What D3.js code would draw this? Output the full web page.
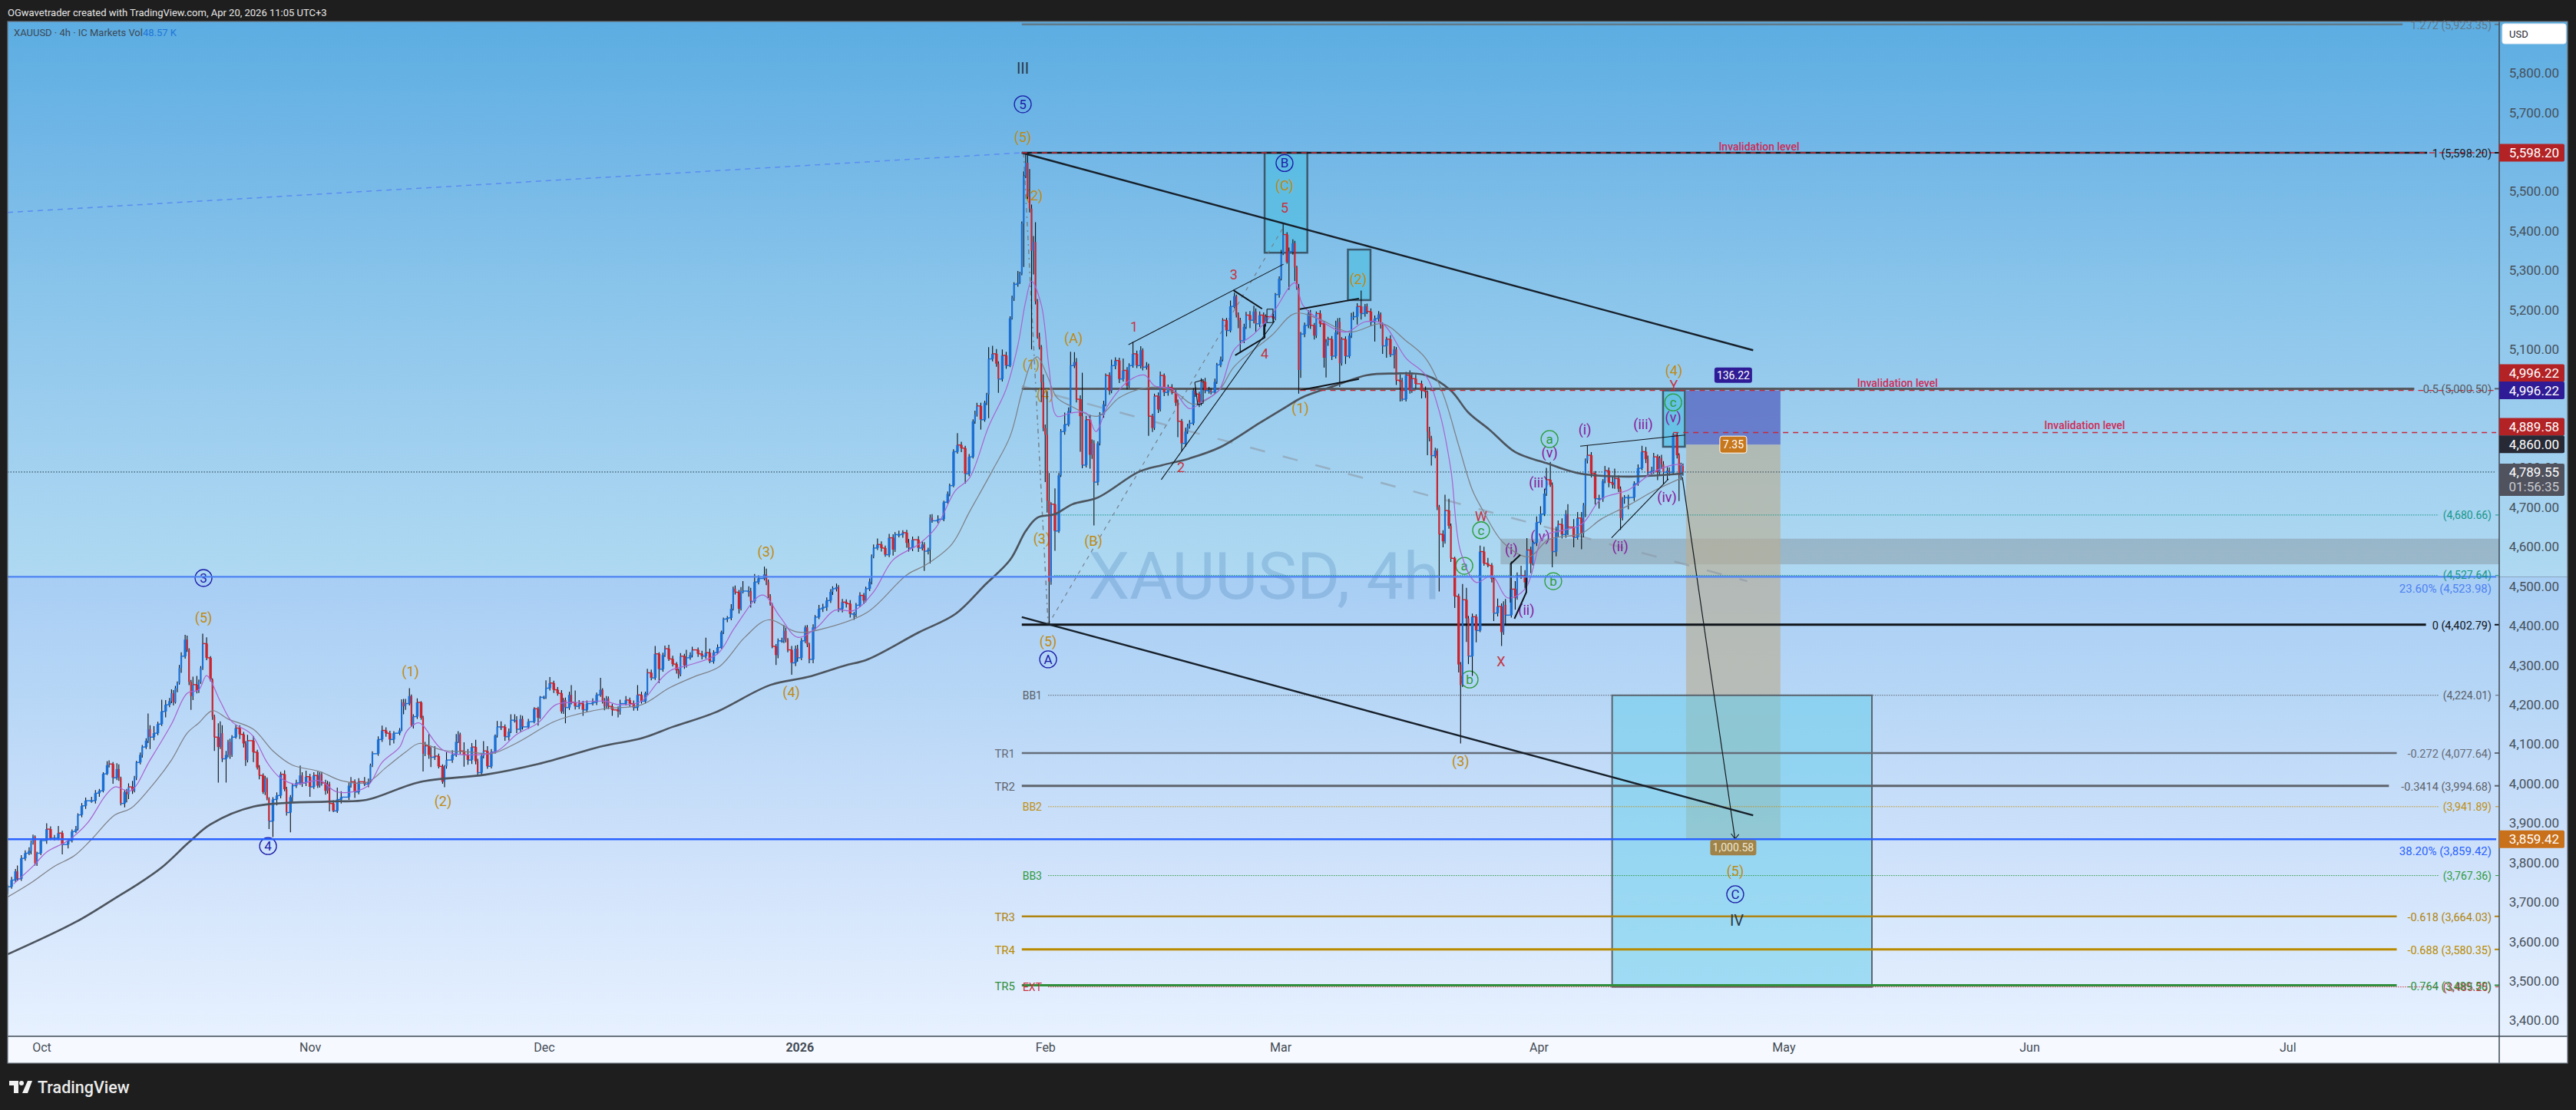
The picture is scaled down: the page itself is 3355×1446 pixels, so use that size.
<!DOCTYPE html>
<html><head><meta charset="utf-8">
<style>html,body{margin:0;padding:0;background:#1e1e1e;overflow:hidden}svg{display:block}text{font-family:Roboto,"Liberation Sans",sans-serif}</style>
<script src="https://cdn.jsdelivr.net/npm/d3@7/dist/d3.min.js"></script></head><body>
<svg id="c" width="3355" height="1446"></svg>
<script>
// candles: [bar number, close, upper wick, lower wick] ; open = previous close
const firstOpen = 3728;
const barsOct = [[0,3739,5,8],[2,3756,8,5],[4,3778,6,5],[5,3759,15,5],[7,3811,8,5],[9,3824,7,6],[11,3830,9,5],[12,3850,6,9],[13,3866,5,4],[14,3798,3,5],[15,3824,4,6],[17,3856,6,5],[20,3885,15,8],[22,3862,7,5],[24,3862,8,6],[26,3875,18,5],[28,3846,6,25],[31,3856,5,10],[33,3879,5,5],[35,3885,8,4],[36,3921,4,3],[38,3944,7,6],[40,3957,8,8],[43,3957,10,5],[45,3976,8,7],[47,3982,5,9],[49,4025,4,4],[51,4047,10,3],[52,4050,9,6],[54,4015,5,15],[56,4037,15,6],[57,4015,12,8],[58,3950,3,5],[60,3979,6,10],[61,3973,8,20],[62,3992,9,12],[64,3982,15,8],[65,4015,5,4],[66,4054,4,6],[68,4073,6,5],[69,4093,5,7],[71,4109,6,5],[72,4138,40,6],[73,4118,10,30],[75,4128,18,8],[77,4151,6,5],[79,4183,30,5],[81,4200,12,15],[83,4209,8,6],[84,4229,10,5],[85,4206,8,8],[86,4242,6,3],[87,4255,4,10],[88,4293,8,4],[89,4323,10,12],[91,4365,12,6],[92,4339,10,5],[93,4258,4,8],[94,4222,5,35],[95,4251,20,10],[97,4235,22,6],[98,4258,6,5],[99,4293,5,5],[100,4355,25,5],[102,4319,16,6],[104,4264,4,5],[105,4170,3,8],[106,4118,5,35],[108,4093,35,90],[109,4128,30,5],[110,4063,20,8],[112,4073,10,60],[113,4106,5,6],[114,4073,8,10],[115,4118,5,5],[117,4141,8,4],[119,4125,7,12],[121,4102,6,10],[122,4060,6,15],[123,4109,15,6],[126,4080,12,25],[128,4041,6,5],[129,4021,6,10],[131,3979,5,5],[132,4012,8,8],[133,3963,4,5],[134,3905,3,20],[136,3960,6,40],[138,3970,8,15],[140,4024,6,7],[142,3986,10,5],[143,3927,6,8],[145,3966,5,50],[146,3995,5,12],[148,4002,8,6],[150,4021,25,5],[151,4002,8,10],[153,4018,15,8],[155,3992,7,25],[157,4021,8,5],[159,3995,10,6],[160,4024,5,5],[161,4002,6,7],[163,3982,8,10],[164,3999,8,7],[165,3950,6,20],[167,3931,8,3],[169,3960,30,5],[171,3966,15,10],[175,3995,8,7],[176,4005,12,5],[178,3979,6,15],[180,4005,9,6],[183,3999,12,5],[185,4005,8,8],[186,4047,4,3],[187,4076,6,5],[190,4112,8,5],[192,4135,12,6],[194,4128,8,9],[196,4112,6,15],[198,4128,5,10],[201,4135,6,5],[202,4206,8,2],[203,4196,9,20]];
const barsNov = [[204,4203,12,9],[206,4222,20,5],[207,4148,4,4],[208,4170,6,8],[210,4206,10,6],[212,4167,3,5],[213,4076,5,45],[214,4096,10,6],[216,4073,30,10],[217,4067,20,25],[219,4070,25,7],[221,4044,6,5],[223,4005,5,5],[224,4044,3,14],[225,4060,20,6],[228,4073,12,7],[230,4106,20,5],[231,4125,8,3],[232,4083,4,8],[234,4073,22,30],[236,4060,15,12],[238,4093,10,10],[240,4057,18,8],[241,4028,6,6],[243,4070,8,8],[244,4083,25,6],[246,4044,12,6],[248,4080,8,5],[250,4122,3,4],[251,4144,15,5],[253,4144,14,8],[255,4119,6,10],[257,4132,8,9],[258,4161,15,4],[260,4161,15,6],[261,4138,10,10],[263,4164,10,6],[264,4144,8,7],[267,4157,7,5],[270,4190,4,4],[272,4167,5,20],[273,4219,3,3],[275,4219,4,5],[276,4242,20,4],[278,4255,15,6],[280,4238,6,8],[282,4229,7,6],[284,4183,8,5],[285,4212,5,6],[286,4193,6,40],[288,4225,8,6],[289,4206,25,5],[291,4196,30,8],[293,4203,9,7],[295,4187,7,15],[297,4203,8,6],[300,4206,10,5],[302,4225,6,7],[304,4238,30,5],[305,4209,4,6],[306,4196,8,10],[307,4216,6,6],[308,4196,5,7],[310,4187,6,15],[313,4183,9,15],[314,4203,10,8],[317,4212,10,5],[319,4203,6,8],[321,4193,8,8],[323,4225,25,8],[325,4209,8,6],[327,4229,4,6],[328,4281,10,4],[330,4268,8,6],[332,4329,20,5],[334,4290,4,35],[336,4326,6,6],[337,4342,8,5],[339,4316,10,5],[341,4303,8,6],[343,4287,5,8],[344,4277,4,10],[345,4323,8,5],[347,4300,6,9],[348,4319,20,6],[350,4326,7,5],[351,4339,8,6],[354,4329,6,8],[356,4323,8,8],[358,4332,38,6],[360,4310,10,5],[362,4332,6,6],[364,4345,8,4],[366,4384,4,3],[367,4417,4,5],[369,4420,5,8],[371,4443,12,6],[372,4494,5,4],[373,4485,8,6],[375,4443,6,12],[376,4488,10,4],[377,4488,25,6],[380,4488,12,14],[381,4462,8,16],[383,4511,20,5],[385,4520,8,6],[388,4530,20,5],[389,4511,15,8],[390,4475,6,5],[391,4455,5,4]];
const barsJan = [[392,4348,3,5],[394,4326,6,25],[395,4362,6,8],[397,4362,8,5],[398,4387,15,6],[399,4365,8,7],[400,4339,4,6],[402,4306,10,30],[404,4342,8,8],[405,4319,10,10],[407,4362,7,6],[409,4396,5,6],[410,4353,6,7],[411,4315,4,10],[413,4396,8,10],[414,4422,5,6],[416,4443,10,5],[418,4447,9,8],[420,4464,8,9],[422,4486,7,6],[423,4494,6,8],[425,4498,9,7],[426,4443,5,8],[428,4460,8,9],[430,4456,7,10],[432,4430,9,9],[434,4430,5,15],[435,4452,6,8],[437,4477,8,5],[439,4464,6,9],[440,4494,5,4],[442,4512,8,6],[443,4576,5,7],[444,4597,9,5],[446,4606,15,5],[448,4597,8,9],[450,4580,6,5],[452,4623,10,6],[454,4593,9,15],[455,4631,6,6],[457,4631,10,7],[459,4636,6,8],[461,4610,7,12],[462,4597,10,9],[464,4618,8,8],[467,4597,9,10],[469,4606,8,6],[470,4589,6,50],[472,4593,5,8],[473,4674,8,35],[474,4666,9,5],[477,4670,10,6],[480,4713,4,5],[482,4734,6,4],[483,4755,5,6],[485,4841,6,4],[487,4858,30,5],[489,4850,8,10],[491,4785,6,25],[493,4828,7,6],[495,4918,5,4],[496,4935,10,6],[497,4957,8,5],[499,4922,8,25],[501,4965,5,5],[502,4986,4,6],[503,5076,30,60],[505,5089,20,6],[507,5064,12,8],[508,5025,6,35],[510,5085,15,6],[512,5059,9,8],[514,5179,5,4],[515,5230,6,3],[516,5265,5,7],[518,5269,30,6],[519,5292,5,3],[520,5419,5,4],[521,5539,12,110],[522,5573,25,5],[523,5487,20,6],[524,5457,70,10],[525,5350,10,250],[526,5372,15,60],[527,5222,50,8],[528,5132,6,5],[529,5106,10,6],[530,5017,5,50],[531,4901,20,8],[532,4884,9,120],[533,4717,110,30]];
const barsFeb = [[534,4512,70,110],[535,4708,5,8],[537,4640,40,50],[539,4781,6,5],[540,4892,6,4],[542,4910,30,8],[544,4944,9,5],[545,5059,35,5],[547,5068,25,6],[548,4974,10,8],[550,4931,10,90],[551,4807,110,8],[553,4922,10,6],[555,4833,12,35],[556,4862,10,10],[557,4764,8,110],[559,4862,5,8],[560,4935,6,5],[562,4961,9,8],[563,5034,5,5],[565,4995,8,10],[566,5059,15,6],[568,5072,8,9],[570,5025,7,10],[572,5047,30,6],[574,5008,8,9],[575,5059,6,5],[577,5089,30,5],[579,5059,8,6],[581,5098,10,7],[582,5055,5,8],[584,5059,9,6],[585,4931,5,50],[587,4901,6,10],[588,4982,6,5],[590,4948,9,9],[591,5034,10,5],[593,4991,5,9],[595,5004,7,8],[597,4991,8,5],[599,4965,6,8],[600,4918,8,40],[602,4862,6,20],[604,4892,10,8],[605,4905,7,6],[606,4913,8,6],[608,4996,6,5],[609,4987,8,7],[611,4966,6,12],[612,5018,9,8],[614,4996,10,7],[616,4996,9,8],[617,4992,6,6],[619,5018,8,6],[620,5061,5,5],[622,5074,8,6],[623,5174,5,4],[625,5148,6,15],[627,5209,15,5],[629,5235,9,5],[630,5187,4,6],[631,5174,7,20],[632,5122,6,30],[634,5157,8,6],[635,5187,8,5],[637,5174,10,20],[639,5196,15,8],[640,5165,8,20],[642,5187,9,8],[644,5165,7,30],[645,5183,6,7],[649,5178,7,8],[650,5239,4,4],[652,5279,6,8],[653,5343,9,4],[654,5391,30,4],[656,5321,6,4],[657,5348,10,70],[659,5369,10,8],[660,5308,6,35],[661,5256,4,5]];
const barsMar = [[662,5048,10,60],[663,5139,5,20],[665,5161,7,8],[667,5191,8,7],[668,5161,9,9],[670,5135,6,10],[671,5191,5,6],[673,5165,8,8],[675,5079,5,25],[676,5118,8,50],[677,5126,6,9],[679,5083,8,10],[681,5143,30,6],[682,5170,9,5],[683,5065,10,60],[684,5126,5,6],[686,5083,7,20],[688,5135,6,5],[689,5183,10,6],[690,5183,12,8],[692,5209,8,20],[694,5191,40,15],[696,5209,6,8],[697,5196,7,6],[699,5170,8,9],[701,5178,8,50],[703,5189,8,7],[704,5161,5,8],[705,5109,7,20],[707,5126,6,30],[709,5087,10,6],[711,5100,8,35],[712,5022,6,12],[714,5018,15,50],[715,4974,10,5],[717,5035,8,6],[719,4996,12,8],[720,5026,15,6],[722,5013,10,12],[725,4996,8,20],[727,4992,10,15],[728,4892,4,60],[729,4875,12,8],[730,4831,6,25],[732,4844,7,6],[733,4701,5,8],[734,4632,5,145],[736,4614,10,15],[737,4692,40,6],[739,4653,30,7],[740,4571,6,9],[742,4475,4,30],[744,4302,6,20],[745,4250,6,148],[746,4466,40,5],[748,4419,30,60],[749,4323,6,20],[751,4423,8,50],[753,4388,6,30],[755,4588,15,4],[757,4558,12,6],[759,4553,14,5],[761,4519,6,9],[762,4432,5,20],[764,4449,20,8],[766,4384,8,35],[767,4453,9,7],[768,4427,15,25],[771,4493,70,6],[773,4471,20,30],[774,4527,8,5],[776,4527,25,8],[778,4510,14,15],[779,4592,30,5],[781,4558,8,25],[782,4610,6,5],[784,4662,15,8],[786,4683,20,6],[788,4735,12,5],[789,4770,30,6],[791,4757,45,5],[792,4588,6,40]];
const barsApr = [[794,4636,15,12],[795,4657,10,10],[797,4631,15,10],[799,4683,10,8],[800,4650,25,20],[803,4624,20,25],[805,4673,15,6],[807,4634,15,40],[808,4705,6,10],[809,4819,5,30],[810,4832,25,8],[812,4786,8,10],[814,4722,6,15],[816,4722,10,25],[818,4767,5,8],[819,4793,12,6],[821,4763,8,12],[823,4757,15,9],[824,4773,25,10],[826,4747,8,8],[827,4673,6,30],[828,4721,5,6],[829,4725,6,12],[831,4725,7,30],[834,4760,6,9],[836,4799,10,5],[838,4841,15,5],[840,4822,12,10],[841,4789,9,8],[843,4793,10,6],[844,4828,10,8],[846,4789,6,20],[847,4825,5,8],[848,4809,8,12],[849,4789,8,30],[851,4793,9,20],[852,4789,8,9],[854,4883,5,6],[856,4832,6,8],[857,4781,5,65],[858,4805,8,12],[859,4790,6,10]];

const maShortBars = [3,13,20,31,41,50,55,63,73,84,92,98,102,109,115,125,133,139,147,160,169,184,192,201,204,206,211,223,238,251,261,272,281,293,306,314,325,333,340,349,364,373,387,396,405,415,424,434,444,454,467,476,486,493,503,512,518,522,525,530,534,538,545,553,558,564,575,583,588,597,606,613,621,629,639,648,660,664,673,686,696,705,717,727,734,740,745,753,761,769,778,786,789,807,817,831,845,857,859];
const maShortVals = [3746,3791,3827,3856,3901,3969,3992,3982,4060,4151,4229,4238,4274,4209,4157,4125,4054,4018,3999,4008,3979,3992,4054,4093,4128,4141,4154,4086,4073,4083,4125,4154,4200,4206,4209,4200,4209,4255,4287,4300,4329,4397,4478,4423,4371,4396,4439,4439,4486,4567,4606,4649,4743,4773,4905,5000,5111,5222,5273,5213,5051,4931,4939,4939,4892,4957,5021,5035,5008,5000,4950,4970,4996,5100,5139,5187,5269,5213,5174,5144,5170,5165,5078,5035,4944,4796,4588,4510,4527,4471,4493,4614,4631,4657,4721,4744,4793,4809,4805];
const maMidBars = [0,12,24,34,43,55,63,73,84,92,98,105,113,126,136,146,160,171,184,194,204,211,223,238,248,262,280,293,306,325,339,352,365,378,390,405,420,441,461,471,484,493,505,514,520,525,528,533,538,545,559,570,581,591,600,608,621,629,648,660,672,688,705,717,727,736,744,751,756,767,780,790,807,817,831,845,859];
const maMidVals = [3713,3749,3791,3817,3859,3921,3937,3989,4060,4128,4154,4185,4164,4138,4083,4047,4031,4008,4003,4041,4080,4102,4085,4080,4076,4106,4157,4177,4190,4200,4242,4271,4297,4371,4415,4384,4395,4435,4529,4555,4606,4687,4794,4880,4991,5068,5081,5034,4978,4957,4931,4978,5000,5004,4987,4961,4996,5057,5135,5191,5178,5144,5165,5122,5078,4987,4857,4744,4696,4610,4575,4618,4634,4670,4705,4744,4776];
const maLongBars = [0,35,57,65,79,93,104,126,165,184,211,245,272,305,325,341,363,391,410,429,441,467,486,501,514,522,528,537,546,559,580,592,606,622,642,655,664,681,697,710,727,740,749,760,773,789,806,831,859];
const maLongVals = [3568,3650,3716,3740,3788,3852,3897,3942,3955,3959,4004,4023,4050,4095,4115,4144,4181,4250,4270,4299,4315,4383,4430,4503,4567,4640,4674,4683,4708,4725,4790,4807,4824,4853,4914,4953,4979,5009,5035,5039,5035,4996,4940,4896,4840,4812,4786,4778,4786];

const priceTicks = [5800,5700,5600,5500,5400,5300,5200,5100,5000,4900,4800,4700,4600,4500,4400,4300,4200,4100,4000,3900,3800,3700,3600,3500,3400];
const monthBars = [17.3,155,275,406,532,652.6,785,910.6,1036.6,1169];
const monthLabels = ["Oct","Nov","Dec","2026","Feb","Mar","Apr","May","Jun","Jul"];

// fib levels: level, label, colour, width, line end (bar), left tag
const fibLevels = [[5923.35,"1.272 (5,923.35)","#62798a",2.5,1228,""],[5598.20,"1 (5,598.20)","#14181d",2.5,1240.6,""],[5000.50,"0.5 (5,000.50)","#545a60",3,1234,""],[4402.79,"0 (4,402.79)","#10141a",3,1240,""],[4077.64,"-0.272 (4,077.64)","#666d78",2.5,1225,"TR1"],[3994.68,"-0.3414 (3,994.68)","#5f646c",3,1221,"TR2"],[3664.03,"-0.618 (3,664.03)","#b08410",2.5,1225,"TR3"],[3580.35,"-0.688 (3,580.35)","#b88a00",3,1225,"TR4"],[3489.50,"-0.764 (3,489.50)","#2f8f3c",3,1225,"TR5"]];
const dottedLevels = [[4680.66,"(4,680.66)","#16978a",""],[4527.64,"(4,527.64)","#16978a",""],[4224.01,"(4,224.01)","#5a6068","BB1"],[3941.89,"(3,941.89)","#c08f12","BB2"],[3767.36,"(3,767.36)","#2f9a3f","BB3"],[3485.25,"(3,485.25)","#c8323c","EXT"]];
const invalidLevels = [[5598.20,520],[4996.22,662.8],[4889.58,854]];
const invalidTexts = [[5614,898],[5014,969],[4907,1065]];
const goldLabels = [["(5)",520.5,5637],["(2)",526.4,5489],["(A)",546.5,5128],["(1)",524.8,5062],["(4)",532,4986],["(3)",530.3,4620],["(B)",556.7,4614],["(C)",654.7,5515],["(2)",692.5,5277],["(1)",662.8,4951],["(4)",854.3,5046],["(5)",100.4,4420],["(1)",206.5,4284],["(2)",223.2,3955],["(3)",388.9,4587],["(4)",401.8,4231],["(5)",533.5,4360],["(3)",745,4056],["(5)",885.8,3778]];
const blueCircles = [["3",100.4,4521],["4",133.5,3842],["5",520.5,5721],["A",533.5,4315],["B",654.7,5572],["C",885.8,3720]];
const greyLabels = [["III",520.5,5812],["IV",886.6,3654]];
const redLabels = [["5",654.7,5458],["3",628.7,5289],["1",577.6,5157],["4",644.5,5089],["2",601.6,4801],["W",755.5,4677],["Y",854.3,5009],["X",765.7,4309]];
const greenCircles = [["c",755.5,4642],["c",854,4966],["a",790.6,4873],["b",792.5,4513],["a",746.9,4552],["b",749.6,4264]];
const purpleLabels = [["(v)",854,4927],["(v)",790.6,4838],["(i)",808.7,4896],["(iii)",838.6,4910],["(iii)",785,4762],["(iv)",785.8,4626],["(i)",771,4593],["(ii)",826.8,4601],["(iv)",850.8,4725],["(ii)",778.7,4439]];
// drawings: list of [bar, price] points
const thickTrend = [[[520,5598.2],[895,5098]],[[520,4422],[895,3920]]];
const mediumTrend = [[[662.5,5202],[692.9,5229]],[[662.8,4997],[692.9,5025]],[[628.5,5250],[643.2,5203]],[[629.4,5085],[644.5,5130],[644.5,5164]],[[772.6,4418],[778.7,4485],[778.7,4527]],[[770.5,4556],[775.6,4580]]];
const thinTrend = [[[574.7,5112],[654.2,5316]],[[591.5,4770],[649.6,5172]],[[806.3,4855],[860,4883]],[[822.4,4623],[851.6,4772]],[[608.7,5017],[613,5023],[613,4964],[610.2,4960],[608.7,5017]],[[645.7,5202],[648.8,5202],[648.8,5168],[645.7,5168],[645.7,5202]],[[770.5,4556],[770.5,4459]]];

const W=3355,H=1446,L=10,T=28,R=3255,B=1350,RE=3344,BE=1385;
const x=d3.scaleLinear().domain([0,1275.98]).range([10,3251]);
const y=d3.scaleLinear().domain([5598.2,4402.79]).range([199,813.8]);
const svg=d3.select("#c");
const defs=svg.append("defs");
function grad(id,stops){const g=defs.append("linearGradient").attr("id",id).attr("x1",0).attr("x2",0).attr("y1",0).attr("y2",1);stops.forEach(s=>g.append("stop").attr("offset",s[0]).attr("stop-color",s[1]));}
grad("gTop",[[0,"#5cade2"],[.25,"#74b8e7"],[.5,"#8bc5eb"],[.75,"#9fcfef"],[1,"#afd9f2"]]);
grad("gBot",[[0,"#a8cef4"],[.25,"#b6d6f6"],[.57,"#cce0fa"],[1,"#e7f1ff"]]);
defs.append("clipPath").attr("id","pane").append("rect").attr("x",L).attr("y",T).attr("width",R-L).attr("height",B-T);
const split=y(4523.98);
svg.append("rect").attr("x",L).attr("y",T).attr("width",RE-L).attr("height",split-T).attr("fill","url(#gTop)");
svg.append("rect").attr("x",L).attr("y",split).attr("width",RE-L).attr("height",B-split).attr("fill","url(#gBot)");
svg.append("rect").attr("x",L).attr("y",B).attr("width",RE-L).attr("height",BE-B).attr("fill","#f6f9ff");

const p=svg.append("g").attr("clip-path","url(#pane)");
function zone(b0,b1,p0,p1,fill,stroke,sw){return p.append("rect").attr("x",x(b0)).attr("width",x(b1)-x(b0)).attr("y",y(p0)).attr("height",y(p1)-y(p0)).attr("fill",fill).attr("stroke",stroke||"none").attr("stroke-width",sw||0);}
// watermark
p.append("text").attr("x",x(554)).attr("y",y(4468)).attr("font-size",86).attr("fill","#4f88bd").attr("fill-opacity",.3).text("XAUUSD, 4h");
zone(765.5,1300,4620.7,4555.9,"rgba(110,110,110,.3)");
zone(860.6,909,4996.22,4859,"rgba(50,45,170,.5)");
zone(860.6,909,4859,3859.42,"rgba(185,172,145,.62)");
zone(822.7,955.9,4224.01,3485.25,"rgba(105,205,235,.55)","#5a6570",2);
zone(644.5,666.4,5598.2,5345,"rgba(85,190,225,.75)","#3c5a6e",2.5);
zone(687.2,698.8,5353,5225,"rgba(85,190,225,.75)","#3c5a6e",2.5);
zone(848.8,860,4996.22,4853.5,"rgba(85,190,225,.75)","#3c5a6e",2.5);

function seg(b0,p0,b1,p1,col,w,dash){return p.append("line").attr("x1",x(b0)).attr("y1",y(p0)).attr("x2",x(b1)).attr("y2",y(p1)).attr("stroke",col).attr("stroke-width",w).attr("stroke-dasharray",dash||null);}
const lab=(sel,txt,xx,yy,col,size,anchor)=>sel.append("text").attr("x",xx).attr("y",yy).attr("dy",".35em").attr("text-anchor",anchor||"middle").attr("fill",col).attr("font-size",size).text(txt);

// dotted and fib levels
dottedLevels.forEach(d=>{seg(d[3]?533.5:536.6,d[0],1246.5,d[0],d[2],1,"1.5,1.5");
 lab(svg,d[1],3245,y(d[0]),d[2],14,"end");svg.append("line").attr("x1",3250).attr("x2",3254).attr("y1",y(d[0])).attr("y2",y(d[0])).attr("stroke",d[2]).attr("stroke-width",1);
 if(d[3])lab(svg,d[3],1357,y(d[0]),d[2],14,"end");});
seg(0,4789.55,1276,4789.55,"#3f5566",1.2,"1.5,2");
seg(0,5447,520,5598.2,"#5b8cf0",1.5,"7,6");
seg(520,5007,892,4513,"#8c98a5",2.5,"20,24").attr("stroke-opacity",.6);
seg(520.9,5598,533.5,4402.79,"#73808c",1.5,"6,5,2,5");
seg(533.5,4402.79,655,5417,"#73808c",1.2,"5,6");
fibLevels.forEach(d=>{seg(520,d[0],d[4],d[0],d[2],d[3]);
 lab(svg,d[1],3245,y(d[0])+1,d[2],14.5,"end");svg.append("line").attr("x1",3249).attr("x2",3255).attr("y1",y(d[0])).attr("y2",y(d[0])).attr("stroke",d[2]).attr("stroke-width",2);
 if(d[5])lab(svg,d[5],1322,y(d[0])+1,d[2],15,"end");});

// wave labels
goldLabels.forEach(d=>lab(p,d[0],x(d[1]),y(d[2]),"#c08a10",18));
redLabels.forEach(d=>lab(p,d[0],x(d[1]),y(d[2]),"#c6323e",18));
purpleLabels.forEach(d=>lab(p,d[0],x(d[1]),y(d[2]),"#86189a",18));
greyLabels.forEach(d=>lab(p,d[0],x(d[1]),y(d[2]),"#2c3a46",20));
function circ(list,col){list.forEach(d=>{p.append("circle").attr("cx",x(d[1])).attr("cy",y(d[2])).attr("r",11).attr("fill","none").attr("stroke",col).attr("stroke-width",1.3);lab(p,d[0],x(d[1]),y(d[2]),col,17);});}
circ(blueCircles,"#1a1ca8");circ(greenCircles,"#2a9d3a");

// candles
const bars=[].concat(barsOct,barsNov,barsJan,barsFeb,barsMar,barsApr);
const candles=p.append("g");
bars.forEach((b,i)=>{const o=i?bars[i-1][1]:firstOpen,c=b[1],hi=Math.max(o,c)+b[2],lo=Math.min(o,c)-b[3];
 const step=i?b[0]-bars[i-1][0]:1,bw=Math.min(3.4,step*2.54*.85),xc=x(b[0]);
 candles.append("line").attr("x1",xc).attr("x2",xc).attr("y1",y(hi)).attr("y2",y(lo)).attr("stroke","#0c0f14").attr("stroke-width",1.1);
 if(step>1)candles.append("rect").attr("x",x(b[0]-step)).attr("width",xc-x(b[0]-step)).attr("y",y(o)-.7).attr("height",1.4).attr("fill",c>=o?"#1c6fd2":"#c9252f");
 candles.append("rect").attr("x",xc-bw/2).attr("width",bw).attr("y",y(Math.max(o,c))).attr("height",Math.max(1.5,Math.abs(y(o)-y(c)))).attr("fill",c>=o?"#1c6fd2":"#c9252f");
});
// moving averages
const ln=d3.line().x(d=>x(d[0])).y(d=>y(d[1])).curve(d3.curveCatmullRom.alpha(.5));
const pair=(a,b)=>a.map((v,i)=>[v,b[i]]);
p.append("path").attr("d",ln(pair(maLongBars,maLongVals))).attr("fill","none").attr("stroke","#4c545e").attr("stroke-width",2.6);
p.append("path").attr("d",ln(pair(maMidBars,maMidVals))).attr("fill","none").attr("stroke","#7d7f86").attr("stroke-width",1.2);
p.append("path").attr("d",ln(pair(maShortBars,maShortVals))).attr("fill","none").attr("stroke","#a763d0").attr("stroke-width",1.2);

// trend lines
const tl=d3.line().x(d=>x(d[0])).y(d=>y(d[1]));
thickTrend.forEach(t=>p.append("path").attr("d",tl(t)).attr("fill","none").attr("stroke","#17202a").attr("stroke-width",2.4));
mediumTrend.forEach(t=>p.append("path").attr("d",tl(t)).attr("fill","none").attr("stroke","#10151b").attr("stroke-width",2));
thinTrend.forEach(t=>p.append("path").attr("d",tl(t)).attr("fill","none").attr("stroke","#10151b").attr("stroke-width",1.1));
// forecast arrow
seg(858.7,4776,885.7,3860,"#14191f",1.2);
p.append("path").attr("d",`M${x(885.7)-5},${y(3860)-7}L${x(885.7)},${y(3860)}L${x(885.7)+5},${y(3860)-6}`).attr("fill","none").attr("stroke","#14191f").attr("stroke-width",1.1);

// invalidation lines
invalidLevels.forEach(d=>seg(d[1],d[0],1276,d[0],"#c6283a",1.4,"7,6"));
invalidTexts.forEach(d=>{const t=lab(p,"Invalidation level",x(d[1]),y(d[0]),"#d02a55",14);t.attr("font-weight",500);});
// blue levels
seg(0,4523.98,1276,4523.98,"#4d82f2",2.2);
seg(0,3859.42,1276,3859.42,"#2962ff",2.6);
lab(svg,"23.60% (4,523.98)",3245,y(4523.98)+15,"#4d82f2",15,"end");
lab(svg,"38.20% (3,859.42)",3245,y(3859.42)+15,"#2962ff",15,"end");

// measure tags
function tag(txt,b,pr,w,h,fill,col,stroke){const xc=x(b),yc=y(pr);
 p.append("rect").attr("x",xc-w/2).attr("y",yc-h/2).attr("width",w).attr("height",h).attr("rx",3).attr("fill",fill).attr("stroke",stroke||"none").attr("stroke-width",stroke?1:0);
 lab(p,txt,xc,yc,col,14);}
tag("136.22",884.8,5035,49,20,"#2f1b96","#fff");
tag("7.35",884.8,4859,35,22,"#c8781c","#fff","#fff");
tag("1,000.58",884.8,3838,60,20,"#a08348","#efe8d0");

// axes
svg.append("line").attr("x1",R).attr("x2",R).attr("y1",T).attr("y2",BE).attr("stroke","#3d4854").attr("stroke-width",1.5);
svg.append("line").attr("x1",L).attr("x2",RE).attr("y1",B).attr("y2",B).attr("stroke","#3d4854").attr("stroke-width",1.5);
svg.append("rect").attr("x",L).attr("y",T).attr("width",RE-L).attr("height",BE-T).attr("fill","none").attr("stroke","#6a747e").attr("stroke-width",1.2);
const ya=svg.append("g").attr("transform",`translate(${R},0)`).call(d3.axisRight(y).tickValues(priceTicks).tickFormat(d3.format(",.2f")).tickSize(0));
ya.select(".domain").remove();
ya.selectAll("text").attr("x",78).attr("text-anchor","end").attr("font-size",17).attr("fill","#46505a").attr("font-family","Roboto");
const xa=svg.append("g").attr("transform",`translate(0,${B})`).call(d3.axisBottom(x).tickValues(monthBars).tickFormat((d,i)=>monthLabels[i]).tickSize(0));
xa.select(".domain").remove();
xa.selectAll("text").attr("y",9).attr("font-size",16).attr("fill","#444c55").attr("font-family","Roboto").attr("font-weight",(d,i)=>monthLabels[i]==="2026"?700:400);
// price tags
function pt(txt,pr,fill,h,off,col){const yc=y(pr)+(off||0);svg.append("path").attr("d",`M${R},${yc-h/2}H3338q2,0 2,2V${yc+h/2-2}q0,2 -2,2H${R}Z`).attr("fill",fill);
 lab(svg,txt,3333,yc,col||"#fff",17,"end");}
pt("5,598.20",5598.2,"#b32225",23);
pt("4,996.22",4996.22,"#b32225",23,-22.5);
pt("4,996.22",4996.22,"#2f1b96",23);
pt("4,889.58",4889.58,"#b32225",23,-7.5);
pt("4,860.00",4860,"#272a35",23);
pt("3,859.42",3859.42,"#c8701a",23);
svg.append("path").attr("d",`M${R},${y(4789.55)-11}H3338q2,0 2,2V${y(4789.55)+29}q0,2 -2,2H${R}Z`).attr("fill","#50525e");
lab(svg,"4,789.55",3333,y(4789.55),"#fff",17,"end");
lab(svg,"01:56:35",3333,y(4789.55)+19,"#c8c9ce",17,"end");
// USD button
svg.append("rect").attr("x",3259).attr("y",31).attr("width",83).attr("height",26).attr("rx",3).attr("fill","#fff").attr("stroke","#e3ecf4");
lab(svg,"USD",3268,44,"#1f262e",13,"start");
// header, legend, logo
lab(svg,"OGwavetrader created with TradingView.com, Apr 20, 2026 11:05 UTC+3",10,16,"#e6e6e6",13,"start");
const lg=lab(svg,"",18,42,"#3b4956",13,"start");
lg.append("tspan").text("XAUUSD · 4h · IC Markets   Vol");
lg.append("tspan").attr("fill","#1f76d8").text("48.57 K");
svg.append("path").attr("d","M12,1408H24V1424H18V1414H12Z M36,1408H42L36,1424H29Z").attr("fill","#f2f2f2");
svg.append("circle").attr("cx",28).attr("cy",1411).attr("r",3).attr("fill","#f2f2f2");
lab(svg,"TradingView",49,1416,"#ececec",21.5,"start").attr("font-weight",500);
</script></body></html>
